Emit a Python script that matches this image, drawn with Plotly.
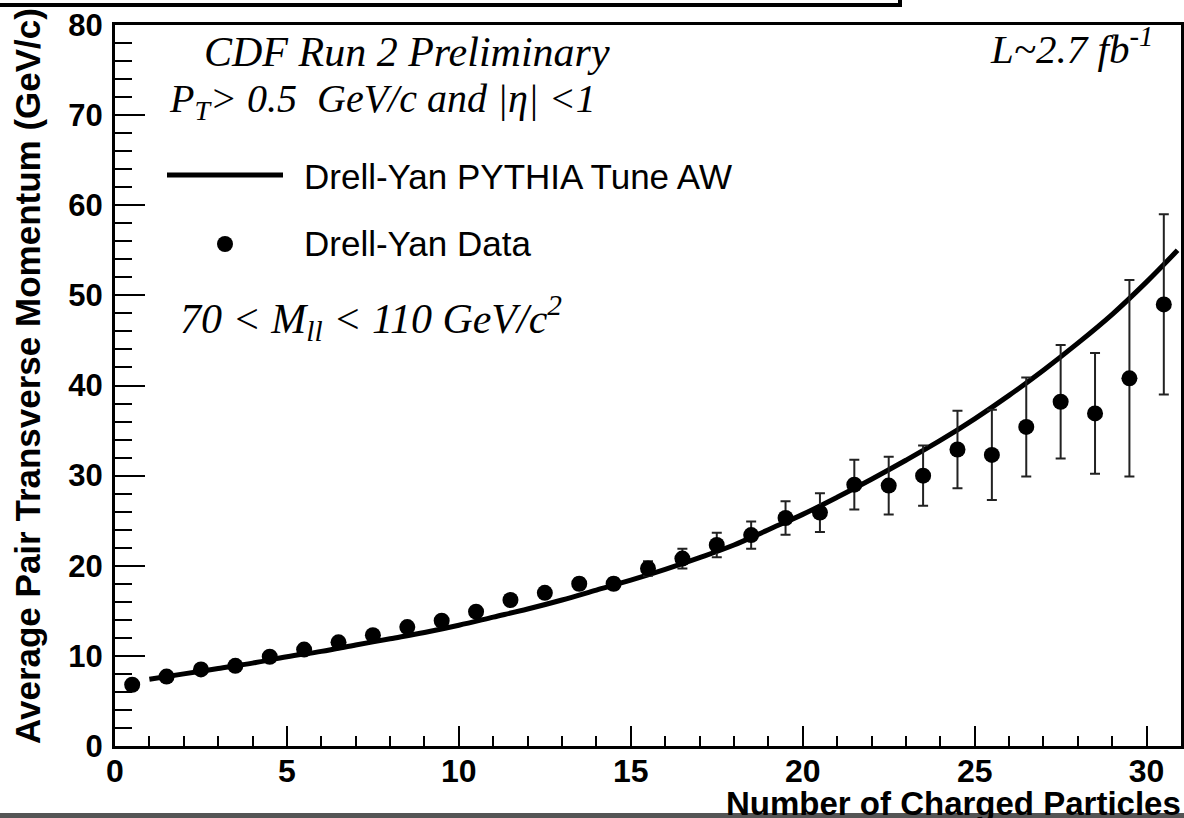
import plotly.graph_objects as go

# ---- data ----
n_charged = [0.5, 1.5, 2.5, 3.5, 4.5, 5.5, 6.5, 7.5, 8.5, 9.5, 10.5, 11.5, 12.5, 13.5, 14.5,
             15.5, 16.5, 17.5, 18.5, 19.5, 20.5, 21.5, 22.5, 23.5, 24.5, 25.5, 26.5, 27.5,
             28.5, 29.5, 30.5]
data_pt = [6.8, 7.7, 8.5, 8.9, 9.9, 10.7, 11.5, 12.3, 13.2, 13.9, 14.9, 16.2, 17.0, 18.0, 18.0,
           19.7, 20.8, 22.3, 23.4, 25.3, 25.9, 29.0, 28.9, 30.0, 32.9, 32.3, 35.4, 38.2,
           36.9, 40.8, 49.0]
data_err = [0.3, 0.3, 0.3, 0.3, 0.3, 0.3, 0.3, 0.4, 0.4, 0.4, 0.5, 0.5, 0.5, 0.6, 0.6,
            0.8, 1.1, 1.35, 1.5, 1.85, 2.15, 2.75, 3.2, 3.35, 4.3, 5.0, 5.5, 6.3,
            6.7, 10.9, 10.0]

mc_x = [1.0, 2, 3, 4, 5, 6, 7, 8, 9, 10, 11, 12, 13, 14, 15, 16, 17, 18, 19, 20,
        21, 22, 23, 24, 25, 26, 27, 28, 29, 30, 30.9]
mc_pt = [7.4, 8.0, 8.6, 9.2, 9.9, 10.5, 11.2, 11.9, 12.6, 13.4, 14.3, 15.2, 16.2, 17.3,
         18.4, 19.6, 20.9, 22.3, 24.0, 25.7, 27.6, 29.6, 31.7, 33.9, 36.3, 38.9, 41.7,
         44.7, 47.9, 51.5, 55.0]

x_ticks = [0, 5, 10, 15, 20, 25, 30]
y_ticks = [0, 10, 20, 30, 40, 50, 60, 70, 80]

# ---- layout geometry (pixels) ----
W, H = 1184, 818
L, R, T, B = 115, 1181, 25, 746


def px(x):
    return (x - L) / (R - L)


def py(y):
    return (B - y) / (B - T)


fig = go.Figure()
fig.add_trace(go.Scatter(
    x=mc_x, y=mc_pt, mode="lines", line=dict(color="black", width=5, shape="spline"),
    showlegend=False, hoverinfo="skip"))
fig.add_trace(go.Scatter(
    x=n_charged, y=data_pt, mode="markers",
    marker=dict(color="black", size=16),
    error_y=dict(type="data", array=data_err, visible=True, color="#222", thickness=2, width=5),
    showlegend=False))

sans = "Liberation Sans"
serif = "Liberation Serif"

fig.update_layout(
    width=W, height=H,
    margin=dict(l=L, r=W - R, t=T, b=H - B, pad=0),
    paper_bgcolor="white", plot_bgcolor="white",
    showlegend=False,
    xaxis=dict(range=[0, 31], tickvals=x_ticks, ticks="inside", ticklen=20, tickwidth=2,
               tickcolor="black", automargin=False, ticklabelstandoff=-5,
               minor=dict(dtick=1, ticks="inside", ticklen=10, tickwidth=2, tickcolor="black"),
               showline=True, linewidth=3, linecolor="black", mirror=True,
               showgrid=False, zeroline=False,
               tickfont=dict(family=sans, size=32, color="black", weight="bold")),
    yaxis=dict(range=[0, 80], tickvals=y_ticks, ticks="inside", ticklen=30, tickwidth=2,
               tickcolor="black", automargin=False, ticklabelstandoff=3,
               minor=dict(dtick=2, ticks="inside", ticklen=17, tickwidth=2, tickcolor="black"),
               showline=True, linewidth=3, linecolor="black", mirror=True,
               showgrid=False, zeroline=False,
               tickfont=dict(family=sans, size=31, color="black", weight="bold")),
)

ann = []
# axis titles
ann.append(dict(x=px(1183), y=py(803), xref="paper", yref="paper", xanchor="right", yanchor="middle",
                text="Number of Charged Particles", showarrow=False,
                font=dict(family=sans, size=33, color="black", weight="bold")))
ann.append(dict(x=px(27), y=py(376), xref="paper", yref="paper", xanchor="center", yanchor="middle",
                text="Average Pair Transverse Momentum (GeV/c)", textangle=-90, showarrow=False,
                font=dict(family=sans, size=35, color="black", weight="bold")))
# labels inside the frame
ann.append(dict(x=px(202), y=py(52), xref="paper", yref="paper", xanchor="left", yanchor="middle",
                text="<i>CDF Run 2 Preliminary</i>", showarrow=False,
                font=dict(family=serif, size=42, color="black")))
ann.append(dict(x=px(167), y=py(101), xref="paper", yref="paper", xanchor="left", yanchor="middle",
                text="<i>P<sub>T</sub>> 0.5\u00a0\u00a0GeV/c and |η| &lt;1</i>", showarrow=False,
                font=dict(family=serif, size=40, color="black")))
ann.append(dict(x=px(1155), y=py(46), xref="paper", yref="paper", xanchor="right", yanchor="middle",
                text="<i>L~2.7 fb<sup>-1</sup></i>", showarrow=False,
                font=dict(family=serif, size=41, color="black")))
ann.append(dict(x=px(178), y=py(318), xref="paper", yref="paper", xanchor="left", yanchor="middle",
                text="<i>70 &lt; M<sub>ll</sub> &lt; 110 GeV/c<sup>2</sup></i>", showarrow=False,
                font=dict(family=serif, size=42, color="black")))
# legend entries
ann.append(dict(x=px(302), y=py(176), xref="paper", yref="paper", xanchor="left", yanchor="middle",
                text="Drell-Yan PYTHIA Tune AW", showarrow=False,
                font=dict(family=sans, size=35, color="black")))
ann.append(dict(x=px(302), y=py(244), xref="paper", yref="paper", xanchor="left", yanchor="middle",
                text="Drell-Yan Data", showarrow=False,
                font=dict(family=sans, size=35, color="black")))
fig.update_layout(annotations=ann)

shapes = []
# legend symbols
shapes.append(dict(type="line", xref="paper", yref="paper", x0=px(167), x1=px(283), y0=py(175), y1=py(175),
                   line=dict(color="black", width=5)))
shapes.append(dict(type="circle", xref="paper", yref="paper", x0=px(217), x1=px(233), y0=py(252), y1=py(236),
                   fillcolor="black", line=dict(color="black", width=0)))
# page decorations (frame of box above, bottom rule)
shapes.append(dict(type="line", xref="paper", yref="paper", x0=px(0), x1=px(901), y0=py(5), y1=py(5),
                   line=dict(color="black", width=4)))
shapes.append(dict(type="line", xref="paper", yref="paper", x0=px(900), x1=px(900), y0=py(7), y1=py(-2),
                   line=dict(color="black", width=4)))
shapes.append(dict(type="line", xref="paper", yref="paper", x0=px(0), x1=px(1184), y0=py(815.5), y1=py(815.5),
                   line=dict(color="#555", width=5)))
fig.update_layout(shapes=shapes)

fig.write_html("out.html", config={"displayModeBar": False},
               post_script="document.body.style.margin='0';document.body.style.overflow='hidden';")
